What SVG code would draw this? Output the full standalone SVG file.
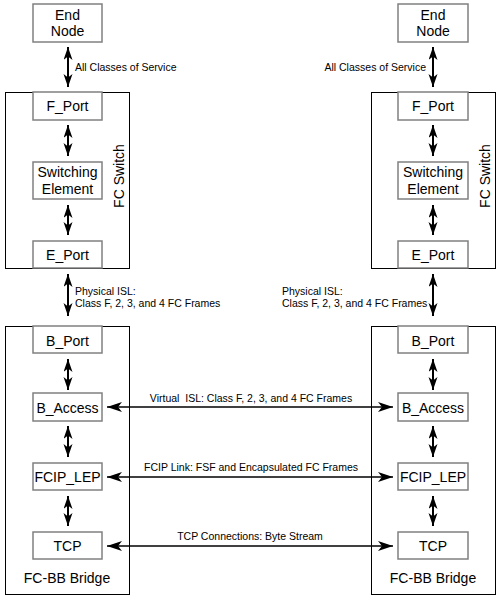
<svg xmlns="http://www.w3.org/2000/svg" width="500" height="599" viewBox="0 0 500 599">
<defs>
<style>
.outer{fill:none;stroke:#000;stroke-width:1}
.inner{fill:#fff;stroke:#808080;stroke-width:1.5}
.bt{font-family:"Liberation Sans",Arial,sans-serif;font-size:14px;fill:#000;text-anchor:middle}
.lb{font-family:"Liberation Sans",Arial,sans-serif;font-size:10.5px;fill:#000}
.va{fill:none;stroke:#000;stroke-width:2;marker-start:url(#av);marker-end:url(#av)}
.ha{fill:none;stroke:#000;stroke-width:1.5;marker-start:url(#ah);marker-end:url(#ah)}
</style>
<marker id="av" markerUnits="userSpaceOnUse" markerWidth="14" markerHeight="10" refX="13" refY="4.5" orient="auto-start-reverse">
<path d="M0,0 L13,4.5 L0,9 L3.5,4.5 Z" fill="#000"/>
</marker>
<marker id="ah" markerUnits="userSpaceOnUse" markerWidth="16" markerHeight="11" refX="15" refY="5" orient="auto-start-reverse">
<path d="M0,0 L15,5 L0,10 L4,5 Z" fill="#000"/>
</marker>
</defs>
<rect width="500" height="599" fill="#fff"/>

<g id="fc-switch-left">
<rect class="outer" x="5.5" y="92.5" width="124" height="176"/>
<text class="bt" transform="translate(124,176) rotate(-90)">FC Switch</text>
</g>
<g id="fc-switch-right">
<rect class="outer" x="371.5" y="92.5" width="124" height="176"/>
<text class="bt" transform="translate(490,176) rotate(-90)">FC Switch</text>
</g>
<g id="bridge-left">
<rect class="outer" x="5.5" y="326.5" width="124" height="268"/>
<text class="bt" x="67" y="583">FC-BB Bridge</text>
</g>
<g id="bridge-right">
<rect class="outer" x="371.5" y="326.5" width="124" height="268"/>
<text class="bt" x="433" y="583">FC-BB Bridge</text>
</g>

<g id="end-node-left"><rect class="inner" x="33" y="4" width="69" height="38"/><text class="bt" x="67.5" y="20">End</text><text class="bt" x="67.5" y="36">Node</text></g>
<g id="f-port-left"><rect class="inner" x="33" y="92" width="69" height="28"/><text class="bt" x="67.5" y="111">F_Port</text></g>
<g id="switching-left"><rect class="inner" x="33" y="162" width="69" height="37"/><text class="bt" x="67.5" y="177">Switching</text><text class="bt" x="67.5" y="194">Element</text></g>
<g id="e-port-left"><rect class="inner" x="33" y="241" width="69" height="27"/><text class="bt" x="67.5" y="260">E_Port</text></g>
<g id="b-port-left"><rect class="inner" x="33" y="326" width="69" height="27"/><text class="bt" x="67.5" y="346">B_Port</text></g>
<g id="b-access-left"><rect class="inner" x="33" y="393" width="69" height="28"/><text class="bt" x="67.5" y="413">B_Access</text></g>
<g id="fcip-lep-left"><rect class="inner" x="33" y="463" width="69" height="27"/><text class="bt" x="67.5" y="482">FCIP_LEP</text></g>
<g id="tcp-left"><rect class="inner" x="33" y="532" width="69" height="27"/><text class="bt" x="67.5" y="551">TCP</text></g>

<g id="end-node-right"><rect class="inner" x="398" y="4" width="70" height="38"/><text class="bt" x="433" y="20">End</text><text class="bt" x="433" y="36">Node</text></g>
<g id="f-port-right"><rect class="inner" x="398" y="92" width="70" height="28"/><text class="bt" x="433" y="111">F_Port</text></g>
<g id="switching-right"><rect class="inner" x="398" y="162" width="70" height="37"/><text class="bt" x="433" y="177">Switching</text><text class="bt" x="433" y="194">Element</text></g>
<g id="e-port-right"><rect class="inner" x="398" y="241" width="70" height="27"/><text class="bt" x="433" y="260">E_Port</text></g>
<g id="b-port-right"><rect class="inner" x="398" y="326" width="70" height="27"/><text class="bt" x="433" y="346">B_Port</text></g>
<g id="b-access-right"><rect class="inner" x="398" y="393" width="70" height="28"/><text class="bt" x="433" y="413">B_Access</text></g>
<g id="fcip-lep-right"><rect class="inner" x="398" y="463" width="70" height="27"/><text class="bt" x="433" y="482">FCIP_LEP</text></g>
<g id="tcp-right"><rect class="inner" x="398" y="532" width="70" height="27"/><text class="bt" x="433" y="551">TCP</text></g>

<g id="connectors">
<line class="va" x1="68" y1="47" x2="68" y2="87"/>
<line class="va" x1="68" y1="125" x2="68" y2="156"/>
<line class="va" x1="68" y1="205" x2="68" y2="235"/>
<line class="va" x1="68" y1="274" x2="68" y2="316"/>
<line class="va" x1="68" y1="359" x2="68" y2="390"/>
<line class="va" x1="68" y1="426" x2="68" y2="457"/>
<line class="va" x1="68" y1="496" x2="68" y2="526"/>
<line class="va" x1="433" y1="47" x2="433" y2="87"/>
<line class="va" x1="433" y1="125" x2="433" y2="156"/>
<line class="va" x1="433" y1="205" x2="433" y2="235"/>
<line class="va" x1="433" y1="274" x2="433" y2="316"/>
<line class="va" x1="433" y1="359" x2="433" y2="390"/>
<line class="va" x1="433" y1="426" x2="433" y2="457"/>
<line class="va" x1="433" y1="496" x2="433" y2="526"/>
<line class="ha" x1="107" y1="407" x2="393" y2="407"/>
<line class="ha" x1="107" y1="477" x2="393" y2="477"/>
<line class="ha" x1="107" y1="546" x2="393" y2="546"/>
<text class="lb" x="75" y="71">All Classes of Service</text>
<text class="lb" x="426" y="71" text-anchor="end">All Classes of Service</text>
<text class="lb" x="75" y="295">Physical ISL:</text>
<text class="lb" x="75" y="307">Class F, 2, 3, and 4 FC Frames</text>
<text class="lb" x="282" y="295">Physical ISL:</text>
<text class="lb" x="282" y="307">Class F, 2, 3, and 4 FC Frames</text>
<text class="lb" x="251" y="402" text-anchor="middle" xml:space="preserve">Virtual  ISL: Class F, 2, 3, and 4 FC Frames</text>
<text class="lb" x="251" y="471" text-anchor="middle">FCIP Link: FSF and Encapsulated FC Frames</text>
<text class="lb" x="250" y="540" text-anchor="middle">TCP Connections: Byte Stream</text>
</g>
</svg>
